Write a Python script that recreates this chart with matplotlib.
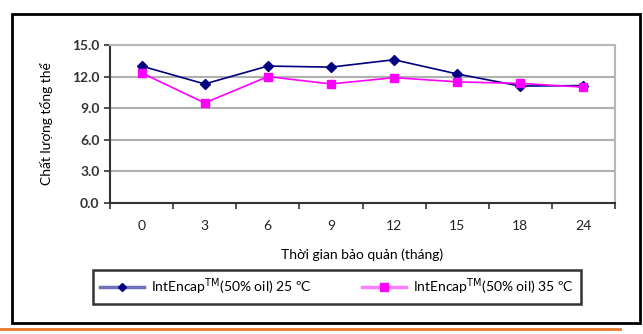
import matplotlib.pyplot as plt
from matplotlib.patches import Rectangle
from matplotlib.lines import Line2D

# thời gian bảo quản (tháng) và chất lượng tổng thể
thang = ['0', '3', '6', '9', '12', '15', '18', '24']
chat_luong_25 = [13.0, 11.3, 13.0, 12.9, 13.6, 12.25, 11.1, 11.15]
chat_luong_35 = [12.35, 9.5, 12.0, 11.3, 11.9, 11.5, 11.35, 11.0]
yticks = [0, 3, 6, 9, 12, 15]

plt.rcParams['font.family'] = ['Lato', 'DejaVu Sans']

fig = plt.figure(figsize=(6.43, 3.34), dpi=100)
ax = fig.add_axes([110 / 643, 1 - 203 / 334, 505 / 643, 158 / 334])

x = range(len(thang))
ax.plot(x, chat_luong_25, color='#000080', marker='D', markersize=5, lw=1.2,
        label='IntEncap$^{\\mathrm{TM}}$(50% oil) 25 ºC')
ax.plot(x, chat_luong_35, color='#FF00FF', marker='s', markersize=5.5, lw=1.2,
        label='IntEncap$^{\\mathrm{TM}}$(50% oil) 35 ºC')

ax.set_xlim(-0.5, len(thang) - 0.5)
ax.set_ylim(0, 15)
ax.set_yticks(yticks)
ax.set_yticklabels(['%.1f' % v for v in yticks], fontweight='bold', color='#333333', fontsize=10)
ax.set_xticks(list(x))
ax.set_xticklabels(thang, fontsize=10, color='#222222')
ax.set_xticks([i - 0.5 for i in range(len(thang) + 1)], minor=True)
ax.tick_params(axis='x', which='major', length=0, pad=12)
ax.tick_params(axis='x', which='minor', length=4, width=1.2, color='#333333')
ax.tick_params(axis='y', length=4, width=1.2, color='#333333')
ax.grid(axis='y', color='#B0B0B0', lw=1.5)
ax.set_axisbelow(True)
for s in ['top', 'right']:
    ax.spines[s].set_color('#B8B8B8')
    ax.spines[s].set_linewidth(1.5)
for s in ['left', 'bottom']:
    ax.spines[s].set_color('#333333')
    ax.spines[s].set_linewidth(1.5)

ax.set_ylabel('Chất lượng tổng thể', fontsize=10, labelpad=14)
ax.set_xlabel('Thời gian bảo quản (tháng)', fontsize=10, labelpad=12)

h1 = Line2D([], [], color='#7070B8', lw=2.5, marker='D', markersize=4.5,
            markerfacecolor='#000080', markeredgecolor='#000080')
h2 = Line2D([], [], color='#FF80FF', lw=2.5, marker='s', markersize=6,
            markerfacecolor='#FF00FF', markeredgecolor='#FF00FF')
leg = fig.legend([h1, h2], [l.get_label() for l in ax.get_lines()],
                 loc='center', bbox_to_anchor=(337 / 643, 1 - 287 / 334),
                 ncol=2, frameon=True, fancybox=False, fontsize=10,
                 handlelength=3.2, handletextpad=0.5, columnspacing=3.6, borderpad=0.45)
leg.get_frame().set_edgecolor('black')
leg.get_frame().set_linewidth(1.8)

# khung ngoài và đường cam phía dưới
fig.patches.append(Rectangle((12 / 643, 1 - 323 / 334), 628 / 643, 309 / 334,
                             transform=fig.transFigure, fill=False,
                             edgecolor='black', lw=2))
fig.lines.append(Line2D([0, 620 / 643], [1 - 328.5 / 334] * 2, transform=fig.transFigure,
                        color='#E8782A', lw=2))

fig.savefig('out.png', dpi=100)
